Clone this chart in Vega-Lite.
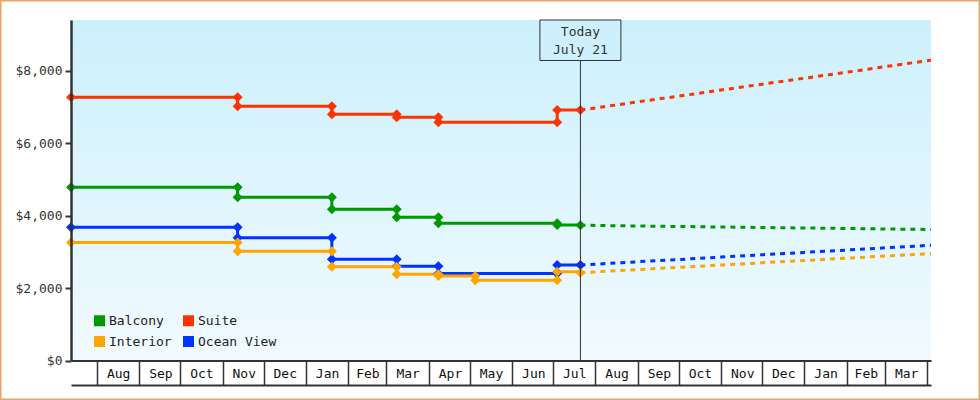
{
  "$schema": "https://vega.github.io/schema/vega-lite/v6.json",
  "width": 980,
  "height": 400,
  "autosize": "none",
  "padding": 0,
  "background": "white",
  "config": {
    "view": {"stroke": "#e8a862", "strokeWidth": 3, "fill": "white"},
    "font": "DejaVu Sans Mono",
    "axis": {"grid": false}
  },
  "datasets": {
    "history": [
      {"cabin": "Suite", "date": "2013-07-13", "price": 7265, "seq": 1},
      {"cabin": "Suite", "date": "2013-11-12", "price": 7265, "seq": 2},
      {"cabin": "Suite", "date": "2013-11-12", "price": 7020, "seq": 3},
      {"cabin": "Suite", "date": "2014-01-20", "price": 7020, "seq": 4},
      {"cabin": "Suite", "date": "2014-01-20", "price": 6800, "seq": 5},
      {"cabin": "Suite", "date": "2014-03-08T12:00:00Z", "price": 6800, "seq": 6},
      {"cabin": "Suite", "date": "2014-03-08T12:00:00Z", "price": 6715, "seq": 7},
      {"cabin": "Suite", "date": "2014-04-08", "price": 6715, "seq": 8},
      {"cabin": "Suite", "date": "2014-04-08", "price": 6575, "seq": 9},
      {"cabin": "Suite", "date": "2014-07-04", "price": 6575, "seq": 10},
      {"cabin": "Suite", "date": "2014-07-04", "price": 6915, "seq": 11},
      {"cabin": "Suite", "date": "2014-07-21", "price": 6915, "seq": 12},
      {"cabin": "Balcony", "date": "2013-07-13", "price": 4780, "seq": 1},
      {"cabin": "Balcony", "date": "2013-11-12", "price": 4780, "seq": 2},
      {"cabin": "Balcony", "date": "2013-11-12", "price": 4505, "seq": 3},
      {"cabin": "Balcony", "date": "2014-01-20", "price": 4505, "seq": 4},
      {"cabin": "Balcony", "date": "2014-01-20", "price": 4175, "seq": 5},
      {"cabin": "Balcony", "date": "2014-03-08T12:00:00Z", "price": 4175, "seq": 6},
      {"cabin": "Balcony", "date": "2014-03-08T12:00:00Z", "price": 3955, "seq": 7},
      {"cabin": "Balcony", "date": "2014-04-08", "price": 3955, "seq": 8},
      {"cabin": "Balcony", "date": "2014-04-08", "price": 3790, "seq": 9},
      {"cabin": "Balcony", "date": "2014-07-04", "price": 3790, "seq": 10},
      {"cabin": "Balcony", "date": "2014-07-04", "price": 3740, "seq": 11},
      {"cabin": "Balcony", "date": "2014-07-21", "price": 3735, "seq": 12},
      {"cabin": "Ocean View", "date": "2013-07-13", "price": 3680, "seq": 1},
      {"cabin": "Ocean View", "date": "2013-11-12", "price": 3680, "seq": 2},
      {"cabin": "Ocean View", "date": "2013-11-12", "price": 3390, "seq": 3},
      {"cabin": "Ocean View", "date": "2014-01-20", "price": 3390, "seq": 4},
      {"cabin": "Ocean View", "date": "2014-01-20", "price": 2795, "seq": 5},
      {"cabin": "Ocean View", "date": "2014-03-08T12:00:00Z", "price": 2795, "seq": 6},
      {"cabin": "Ocean View", "date": "2014-03-08T12:00:00Z", "price": 2600, "seq": 7},
      {"cabin": "Ocean View", "date": "2014-04-08", "price": 2600, "seq": 8},
      {"cabin": "Ocean View", "date": "2014-04-08", "price": 2405, "seq": 9},
      {"cabin": "Ocean View", "date": "2014-07-04", "price": 2405, "seq": 10},
      {"cabin": "Ocean View", "date": "2014-07-04", "price": 2635, "seq": 11},
      {"cabin": "Ocean View", "date": "2014-07-21", "price": 2635, "seq": 12},
      {"cabin": "Interior", "date": "2013-07-13", "price": 3260, "seq": 1},
      {"cabin": "Interior", "date": "2013-11-12", "price": 3260, "seq": 2},
      {"cabin": "Interior", "date": "2013-11-12", "price": 3015, "seq": 3},
      {"cabin": "Interior", "date": "2014-01-20", "price": 3015, "seq": 4},
      {"cabin": "Interior", "date": "2014-01-20", "price": 2590, "seq": 5},
      {"cabin": "Interior", "date": "2014-03-08T12:00:00Z", "price": 2590, "seq": 6},
      {"cabin": "Interior", "date": "2014-03-08T12:00:00Z", "price": 2380, "seq": 7},
      {"cabin": "Interior", "date": "2014-04-08", "price": 2380, "seq": 8},
      {"cabin": "Interior", "date": "2014-04-08", "price": 2335, "seq": 9},
      {"cabin": "Interior", "date": "2014-05-05", "price": 2335, "seq": 10},
      {"cabin": "Interior", "date": "2014-05-05", "price": 2215, "seq": 11},
      {"cabin": "Interior", "date": "2014-07-04", "price": 2215, "seq": 12},
      {"cabin": "Interior", "date": "2014-07-04", "price": 2450, "seq": 13},
      {"cabin": "Interior", "date": "2014-07-21", "price": 2425, "seq": 14}
    ],
    "forecast": [
      {"cabin": "Suite", "date": "2014-07-21", "price": 6915},
      {"cabin": "Suite", "date": "2014-08-01", "price": 6972},
      {"cabin": "Suite", "date": "2014-09-01", "price": 7140},
      {"cabin": "Suite", "date": "2014-10-01", "price": 7298},
      {"cabin": "Suite", "date": "2014-11-01", "price": 7467},
      {"cabin": "Suite", "date": "2014-12-01", "price": 7628},
      {"cabin": "Suite", "date": "2015-01-01", "price": 7793},
      {"cabin": "Suite", "date": "2015-02-01", "price": 7958},
      {"cabin": "Suite", "date": "2015-03-01", "price": 8111},
      {"cabin": "Suite", "date": "2015-04-03T17:00:00Z", "price": 8290},
      {"cabin": "Balcony", "date": "2014-07-21", "price": 3735},
      {"cabin": "Balcony", "date": "2014-08-01", "price": 3728},
      {"cabin": "Balcony", "date": "2014-09-01", "price": 3713},
      {"cabin": "Balcony", "date": "2014-10-01", "price": 3700},
      {"cabin": "Balcony", "date": "2014-11-01", "price": 3685},
      {"cabin": "Balcony", "date": "2014-12-01", "price": 3672},
      {"cabin": "Balcony", "date": "2015-01-01", "price": 3658},
      {"cabin": "Balcony", "date": "2015-02-01", "price": 3645},
      {"cabin": "Balcony", "date": "2015-03-01", "price": 3630},
      {"cabin": "Balcony", "date": "2015-04-03T17:00:00Z", "price": 3617},
      {"cabin": "Ocean View", "date": "2014-07-21", "price": 2635},
      {"cabin": "Ocean View", "date": "2014-08-01", "price": 2659},
      {"cabin": "Ocean View", "date": "2014-09-01", "price": 2726},
      {"cabin": "Ocean View", "date": "2014-10-01", "price": 2788},
      {"cabin": "Ocean View", "date": "2014-11-01", "price": 2855},
      {"cabin": "Ocean View", "date": "2014-12-01", "price": 2919},
      {"cabin": "Ocean View", "date": "2015-01-01", "price": 2984},
      {"cabin": "Ocean View", "date": "2015-02-01", "price": 3049},
      {"cabin": "Ocean View", "date": "2015-03-01", "price": 3110},
      {"cabin": "Ocean View", "date": "2015-04-03T17:00:00Z", "price": 3181},
      {"cabin": "Interior", "date": "2014-07-21", "price": 2425},
      {"cabin": "Interior", "date": "2014-08-01", "price": 2446},
      {"cabin": "Interior", "date": "2014-09-01", "price": 2511},
      {"cabin": "Interior", "date": "2014-10-01", "price": 2571},
      {"cabin": "Interior", "date": "2014-11-01", "price": 2636},
      {"cabin": "Interior", "date": "2014-12-01", "price": 2698},
      {"cabin": "Interior", "date": "2015-01-01", "price": 2761},
      {"cabin": "Interior", "date": "2015-02-01", "price": 2825},
      {"cabin": "Interior", "date": "2015-03-01", "price": 2884},
      {"cabin": "Interior", "date": "2015-04-03T17:00:00Z", "price": 2952}
    ]
  },
  "layer": [
    {
      "data": {"values": [{}]},
      "mark": {
        "type": "rect",
        "fill": {
          "gradient": "linear", "x1": 0, "y1": 0, "x2": 0, "y2": 1,
          "stops": [{"offset": 0, "color": "#ccf0fc"}, {"offset": 1, "color": "#f1faff"}]
        }
      },
      "encoding": {
        "x": {
          "datum": {"year": 2013, "month": 7, "date": 13, "utc": true},
          "type": "temporal",
          "scale": {
            "type": "utc",
            "domain": [
              {"year": 2013, "month": 7, "date": 13, "utc": true},
              {"year": 2015, "month": 4, "date": 3, "hours": 17, "utc": true}
            ],
            "range": [71, 931],
            "nice": false
          },
          "axis": {
            "orient": "bottom",
            "offset": -39.5,
            "title": null,
            "labels": false,
            "tickSize": 24.5,
            "tickWidth": 1.5,
            "tickColor": "#333333",
            "domainColor": "#333333",
            "domainWidth": 2,
            "zindex": 1,
            "values": [
              {"year": 2013, "month": 8, "date": 1, "utc": true},
              {"year": 2013, "month": 9, "date": 1, "utc": true},
              {"year": 2013, "month": 10, "date": 1, "utc": true},
              {"year": 2013, "month": 11, "date": 1, "utc": true},
              {"year": 2013, "month": 12, "date": 1, "utc": true},
              {"year": 2014, "month": 1, "date": 1, "utc": true},
              {"year": 2014, "month": 2, "date": 1, "utc": true},
              {"year": 2014, "month": 3, "date": 1, "utc": true},
              {"year": 2014, "month": 4, "date": 1, "utc": true},
              {"year": 2014, "month": 5, "date": 1, "utc": true},
              {"year": 2014, "month": 6, "date": 1, "utc": true},
              {"year": 2014, "month": 7, "date": 1, "utc": true},
              {"year": 2014, "month": 8, "date": 1, "utc": true},
              {"year": 2014, "month": 9, "date": 1, "utc": true},
              {"year": 2014, "month": 10, "date": 1, "utc": true},
              {"year": 2014, "month": 11, "date": 1, "utc": true},
              {"year": 2014, "month": 12, "date": 1, "utc": true},
              {"year": 2015, "month": 1, "date": 1, "utc": true},
              {"year": 2015, "month": 2, "date": 1, "utc": true},
              {"year": 2015, "month": 3, "date": 1, "utc": true},
              {"year": 2015, "month": 4, "date": 1, "utc": true}
            ]
          }
        },
        "x2": {"datum": {"year": 2015, "month": 4, "date": 3, "hours": 17, "utc": true}},
        "y": {
          "datum": 0,
          "type": "quantitative",
          "scale": {"domain": [0, 9400], "range": [360.5, 20], "nice": false, "zero": false},
          "axis": {
            "orient": "left",
            "offset": -71,
            "title": null,
            "values": [0, 2000, 4000, 6000, 8000],
            "format": "$,.0f",
            "tickSize": 6,
            "tickWidth": 2,
            "tickColor": "#333333",
            "domainColor": "#333333",
            "domainWidth": 2.5,
            "labelPadding": 3,
            "labelFont": "DejaVu Sans Mono",
            "labelFontSize": 13,
            "labelColor": "#333333",
            "zindex": 1
          }
        },
        "y2": {"datum": 9400}
      }
    },
    {
      "data": {"name": "history"},
      "mark": {"type": "line", "interpolate": "step-after", "strokeWidth": 3},
      "encoding": {
        "x": {
          "field": "date",
          "type": "temporal",
          "axis": {
            "orient": "bottom",
            "offset": -15,
            "title": null,
            "ticks": false,
            "tickSize": 0,
            "labelPadding": -18,
            "labelExpr": "utcFormat(datum.value, '%b')",
            "labelFont": "DejaVu Sans Mono",
            "labelFontSize": 13,
            "labelColor": "#111111",
            "labelFlush": false,
            "labelOverlap": false,
            "labelBaseline": "top",
            "domainColor": "#333333",
            "domainWidth": 2,
            "zindex": 1,
            "values": [
              {"year": 2013, "month": 8, "date": 16, "hours": 12, "utc": true},
              {"year": 2013, "month": 9, "date": 16, "hours": 12, "utc": true},
              {"year": 2013, "month": 10, "date": 16, "hours": 12, "utc": true},
              {"year": 2013, "month": 11, "date": 16, "hours": 12, "utc": true},
              {"year": 2013, "month": 12, "date": 16, "hours": 12, "utc": true},
              {"year": 2014, "month": 1, "date": 16, "hours": 12, "utc": true},
              {"year": 2014, "month": 2, "date": 15, "hours": 0, "utc": true},
              {"year": 2014, "month": 3, "date": 16, "hours": 12, "utc": true},
              {"year": 2014, "month": 4, "date": 16, "hours": 12, "utc": true},
              {"year": 2014, "month": 5, "date": 16, "hours": 12, "utc": true},
              {"year": 2014, "month": 6, "date": 16, "hours": 12, "utc": true},
              {"year": 2014, "month": 7, "date": 16, "hours": 12, "utc": true},
              {"year": 2014, "month": 8, "date": 16, "hours": 12, "utc": true},
              {"year": 2014, "month": 9, "date": 16, "hours": 12, "utc": true},
              {"year": 2014, "month": 10, "date": 16, "hours": 12, "utc": true},
              {"year": 2014, "month": 11, "date": 16, "hours": 12, "utc": true},
              {"year": 2014, "month": 12, "date": 16, "hours": 12, "utc": true},
              {"year": 2015, "month": 1, "date": 16, "hours": 12, "utc": true},
              {"year": 2015, "month": 2, "date": 15, "hours": 0, "utc": true},
              {"year": 2015, "month": 3, "date": 16, "hours": 12, "utc": true}
            ]
          }
        },
        "y": {"field": "price", "type": "quantitative", "axis": null},
        "color": {
          "field": "cabin",
          "type": "nominal",
          "scale": {
            "domain": ["Balcony", "Interior", "Suite", "Ocean View"],
            "range": ["#009900", "#ffa500", "#ff3300", "#0033ff"]
          },
          "legend": {
            "orient": "none",
            "legendX": 93,
            "legendY": 314,
            "columns": 2,
            "title": null,
            "zindex": 2,
            "symbolType": "square",
            "symbolSize": 121,
            "symbolStrokeWidth": 0,
            "symbolOpacity": 1,
            "labelFont": "DejaVu Sans Mono",
            "labelFontSize": 13,
            "labelColor": "#222222",
            "labelOffset": 3,
            "columnPadding": 10,
            "rowPadding": 7,
            "padding": 0,
            "encode": {
              "symbols": {
                "update": {
                  "fill": {"scale": "color", "field": "value"},
                  "strokeWidth": {"value": 0}
                }
              }
            }
          }
        },
        "order": {"field": "seq"}
      }
    },
    {
      "data": {"name": "forecast"},
      "mark": {"type": "line", "strokeWidth": 3, "strokeDash": [5, 5]},
      "encoding": {
        "x": {"field": "date", "type": "temporal", "axis": null},
        "y": {"field": "price", "type": "quantitative", "axis": null},
        "color": {"field": "cabin", "type": "nominal", "legend": null}
      }
    },
    {
      "data": {"name": "history"},
      "mark": {"type": "point", "shape": "diamond", "filled": true, "size": 100, "opacity": 1},
      "encoding": {
        "x": {"field": "date", "type": "temporal", "axis": null},
        "y": {"field": "price", "type": "quantitative", "axis": null},
        "color": {"field": "cabin", "type": "nominal", "legend": null}
      }
    },
    {
      "data": {"values": [{}]},
      "mark": {"type": "rule", "color": "#333333", "strokeWidth": 1},
      "encoding": {
        "x": {"datum": {"year": 2014, "month": 7, "date": 21, "utc": true}, "type": "temporal", "axis": null},
        "y": {"datum": 8282, "type": "quantitative", "axis": null},
        "y2": {"datum": 0}
      }
    },
    {
      "data": {"values": [{}]},
      "mark": {
        "type": "point",
        "shape": "M-1,-0.5H1V0.5H-1Z",
        "size": 6561,
        "filled": true,
        "fill": "#cdf0fc",
        "stroke": "#333333",
        "strokeWidth": 1,
        "opacity": 1
      },
      "encoding": {
        "x": {"datum": {"year": 2014, "month": 7, "date": 21, "utc": true}, "type": "temporal", "axis": null},
        "y": {"datum": 8841, "type": "quantitative", "axis": null}
      }
    },
    {
      "data": {"values": [{}]},
      "mark": {
        "type": "text",
        "text": ["Today", "July 21"],
        "lineHeight": 18,
        "font": "DejaVu Sans Mono",
        "fontSize": 13,
        "color": "#333333",
        "align": "center",
        "baseline": "middle"
      },
      "encoding": {
        "x": {"datum": {"year": 2014, "month": 7, "date": 21, "utc": true}, "type": "temporal", "axis": null},
        "y": {"datum": 9069, "type": "quantitative", "axis": null}
      }
    }
  ],
  "resolve": {"axis": {"x": "independent", "y": "independent"}}
}
